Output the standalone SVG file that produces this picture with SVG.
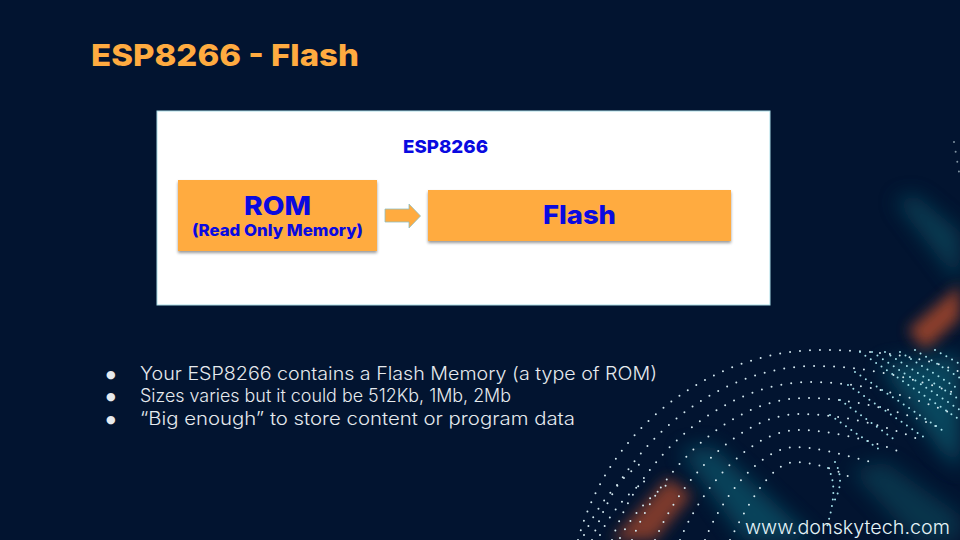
<svg xmlns="http://www.w3.org/2000/svg" width="960" height="540" viewBox="0 0 960 540">
<style>
text{font-family:"Inter","Noto Sans","Liberation Sans",sans-serif}
.blue{fill:#0a0ae0;font-weight:800;text-anchor:middle}
.body{fill:#e6eaee;font-size:18px;font-weight:300}
.bul{fill:#e6eaee;font-size:11px;font-family:"DejaVu Sans",sans-serif}
.box{fill:#ffab40;filter:url(#sh)}
.dots{fill:none;stroke:#d4e8ef;stroke-width:2;stroke-linecap:round;stroke-dasharray:0 10}
.dots2{fill:none;stroke:#a5e0ea;stroke-width:2;stroke-linecap:round;stroke-dasharray:0 6.5}
</style>
<defs>
<filter id="sh" x="-10%" y="-20%" width="120%" height="140%"><feDropShadow dx="0" dy="2" stdDeviation="1.6" flood-color="#000" flood-opacity=".4"/></filter>
<filter id="b" x="-50%" y="-50%" width="200%" height="200%"><feGaussianBlur stdDeviation="10"/></filter>
<filter id="b2" x="-50%" y="-50%" width="200%" height="200%"><feGaussianBlur stdDeviation="7"/></filter>
</defs>
<rect width="960" height="540" fill="#021430"/>
<g id="streaks">
<polygon points="895,200 915,195 960,232 960,285" fill="#0e5568" opacity=".6" filter="url(#b)"/>
<polygon points="908,330 960,285 960,318 925,350" fill="#a5472c" opacity=".85" filter="url(#b2)"/>
<polygon points="880,365 960,355 960,470 940,450" fill="#0e6a7e" opacity=".6" filter="url(#b)"/>
<polygon points="850,470 885,462 960,515 960,540 915,540" fill="#0e4f62" opacity=".55" filter="url(#b)"/>
<polygon points="680,450 712,446 815,540 745,540" fill="#0f6478" opacity=".6" filter="url(#b)"/>
<polygon points="612,540 668,478 692,495 655,540" fill="#a5472c" opacity=".75" filter="url(#b2)"/>
</g>
<g id="dotfield">
<path class="dots" d="M578 540C610 420 720 350 820 350C870 350 920 355 960 372"/>
<path class="dots" d="M592 540C625 440 720 366 815 366C865 366 915 378 960 395"/>
<path class="dots" d="M612 540C640 455 725 382 810 382C860 382 910 395 955 415"/>
<path class="dots" d="M632 540C660 470 730 398 805 398C850 398 900 410 940 428"/>
<path class="dots" d="M655 540C680 480 740 414 800 414C840 414 885 425 920 440"/>
<path class="dots" d="M680 540C700 490 750 430 798 430C830 430 870 440 900 452"/>
<path class="dots" d="M705 540C720 500 760 447 795 447C815 447 845 455 875 463"/>
<path class="dots" d="M730 540C745 510 770 462 795 462C810 462 835 468 855 480"/>
<path class="dots" d="M584 535C600 500 620 480 642 462"/>
<path class="dots" d="M600 535C612 510 630 490 652 476"/>
<path class="dots" d="M620 538C632 515 648 498 668 484"/>
<path class="dots2" d="M828 468C838 485 832 510 826 530"/>
<path class="dots2" d="M835 462C845 480 838 495 832 505"/>
<path class="dots2" d="M860 352L960 420"/>
<path class="dots2" d="M872 352L960 410"/>
<path class="dots2" d="M885 352L960 400"/>
<path class="dots2" d="M900 352L960 390"/>
<path class="dots2" d="M915 350L960 378"/>
<path class="dots2" d="M935 350L960 364"/>
<path class="dots2" d="M855 372L945 432"/>
<path class="dots2" d="M848 385L925 438"/>
<path class="dots2" d="M840 400L895 440"/>
<path class="dots2" d="M830 415L880 450"/>
<path class="dots" d="M954 142L960 178" opacity=".6"/>
</g>
<g id="title"><text x="91" y="66" fill="#ffab40" font-size="30" font-weight="800" textLength="268" lengthAdjust="spacingAndGlyphs">ESP8266 - Flash</text></g>
<g id="panel">
<rect x="157" y="111" width="613" height="194" fill="#fff" stroke="#a9dce6" stroke-width="1"/>
<text class="blue" x="445.500" y="153" font-size="18" textLength="85" lengthAdjust="spacingAndGlyphs">ESP8266</text>
</g>
<g id="connectors">
<path d="M385 209H409V204L420.500 216L409 228V222H385Z" fill="#ffab40" stroke="#8fbfc0" stroke-width=".8"/>
</g>
<g id="rom">
<rect class="box" x="178" y="180" width="199" height="71"/>
<text class="blue" x="277.500" y="215" font-size="26" textLength="67" lengthAdjust="spacingAndGlyphs">ROM</text>
<text class="blue" x="277.500" y="236" font-size="16" textLength="171" lengthAdjust="spacingAndGlyphs">(Read Only Memory)</text>
</g>
<g id="flash">
<rect class="box" x="428" y="190" width="303" height="51"/>
<text class="blue" x="579.500" y="224" font-size="26" textLength="73" lengthAdjust="spacingAndGlyphs">Flash</text>
</g>
<g id="bullets">
<text class="bul" x="106" y="378">●</text>
<text class="bul" x="106" y="400">●</text>
<text class="bul" x="106" y="423">●</text>
<text class="body" x="140" y="380" textLength="517" lengthAdjust="spacingAndGlyphs">Your ESP8266 contains a Flash Memory (a type of ROM)</text>
<text class="body" x="140" y="402" textLength="371" lengthAdjust="spacingAndGlyphs">Sizes varies but it could be 512Kb, 1Mb, 2Mb</text>
<text class="body" x="140" y="425" textLength="435" lengthAdjust="spacingAndGlyphs">“Big enough” to store content or program data</text>
</g>
<g id="footer"><text x="745" y="534" fill="#e4f3f7" font-size="19" font-weight="300" textLength="205" lengthAdjust="spacingAndGlyphs">www.donskytech.com</text></g>
</svg>
